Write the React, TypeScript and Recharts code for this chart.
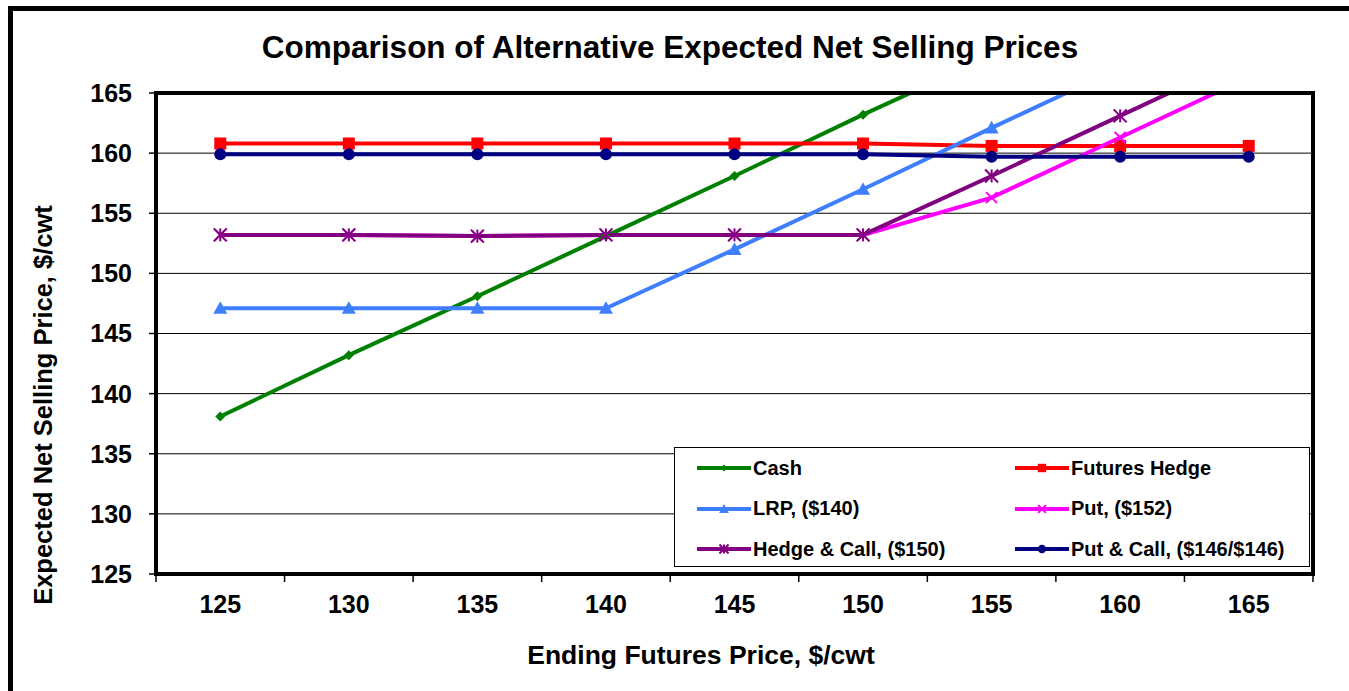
import React from 'react';
import { LineChart, Line, XAxis, YAxis, CartesianGrid } from 'recharts';

const categories = [125, 130, 135, 140, 145, 150, 155, 160, 165];
const cash = [138.1, 143.2, 148.1, 153.1, 158.1, 163.2, 168.1, 173.1, 178.1];
const futuresHedge = [160.8, 160.8, 160.8, 160.8, 160.8, 160.8, 160.6, 160.6, 160.6];
const lrp = [147.1, 147.1, 147.1, 147.1, 152.0, 157.0, 162.1, 167.1, 172.1];
const putOpt = [153.2, 153.2, 153.1, 153.2, 153.2, 153.2, 156.3, 161.3, 166.3];
const hedgeCall = [153.2, 153.2, 153.1, 153.2, 153.2, 153.2, 158.1, 163.1, 168.1];
const putCall = [159.9, 159.9, 159.9, 159.9, 159.9, 159.9, 159.7, 159.7, 159.7];
const yTicks = [125, 130, 135, 140, 145, 150, 155, 160, 165];

const seriesKeys = ['cash', 'futures', 'lrp', 'put', 'hedgeCall', 'putCall'];
const seriesNames = ['Cash', 'Futures Hedge', 'LRP, ($140)', 'Put, ($152)', 'Hedge & Call, ($150)', 'Put & Call, ($146/$146)'];
const seriesColors = ['#008000', '#FF0000', '#3F7FFF', '#FF00FF', '#800080', '#000080'];
const seriesShapes = ['diamond', 'square', 'triangle', 'x', 'star', 'circle'];
const seriesValues = [cash, futuresHedge, lrp, putOpt, hedgeCall, putCall];

const data = categories.map((c, i) => {
  const row: Record<string, number> = { x: c };
  seriesKeys.forEach((k, j) => { row[k] = seriesValues[j][i]; });
  return row;
});

const edgeTicks = [...categories.map((c) => c - 2.5), categories[categories.length - 1] + 2.5];
const allXTicks = [...edgeTicks, ...categories].sort((a, b) => a - b);

const FONT = '"Liberation Sans", Arial, sans-serif';

function Marker({ shape, cx, cy, color, s = 1 }: any) {
  if (cx == null || cy == null) return <g />;
  switch (shape) {
    case 'diamond': {
      const r = 5 * s;
      return <polygon points={`${cx},${cy - r} ${cx + r},${cy} ${cx},${cy + r} ${cx - r},${cy}`} fill={color} />;
    }
    case 'square': {
      const r = 6 * s;
      return <rect x={cx - r} y={cy - r} width={2 * r} height={2 * r} fill={color} />;
    }
    case 'triangle': {
      const r = 7 * s;
      return <polygon points={`${cx},${cy - r} ${cx + r},${cy + r * 0.8} ${cx - r},${cy + r * 0.8}`} fill={color} />;
    }
    case 'x': {
      const r = 5.5 * s;
      return (
        <g stroke={color} strokeWidth={2}>
          <line x1={cx - r} y1={cy - r} x2={cx + r} y2={cy + r} />
          <line x1={cx - r} y1={cy + r} x2={cx + r} y2={cy - r} />
        </g>
      );
    }
    case 'star': {
      const r = 6.5 * s;
      return (
        <g stroke={color} strokeWidth={2}>
          <line x1={cx - r} y1={cy - r} x2={cx + r} y2={cy + r} />
          <line x1={cx - r} y1={cy + r} x2={cx + r} y2={cy - r} />
          <line x1={cx} y1={cy - r} x2={cx} y2={cy + r} />
        </g>
      );
    }
    case 'circle':
    default:
      return <circle cx={cx} cy={cy} r={6 * s} fill={color} />;
  }
}

function XTick(props: any) {
  const { x, y, payload } = props;
  const v = payload?.value;
  if (edgeTicks.includes(v)) {
    return <line x1={x} x2={x} y1={y} y2={y + 8} stroke="#000" strokeWidth={1.5} />;
  }
  return (
    <text x={x} y={y + 21} dy="0.71em" textAnchor="middle" fill="#000" fontFamily={FONT} fontWeight="bold" fontSize={25}>
      {v}
    </text>
  );
}

function LegendBox() {
  return (
    <div
      style={{
        position: 'absolute', left: 674, top: 447, width: 636, height: 120,
        border: '1.5px solid #000', background: '#fff', boxSizing: 'border-box',
        fontFamily: FONT, fontWeight: 'bold', fontSize: 20,
      }}
    >
      {seriesNames.map((name, i) => {
        const col = i % 2;
        const row = Math.floor(i / 2);
        return (
          <div
            key={name}
            style={{
              position: 'absolute', left: col === 0 ? 22 : 340, top: 8 + row * 40.5,
              height: 24, display: 'flex', alignItems: 'center', whiteSpace: 'nowrap',
            }}
          >
            <svg width={56} height={16} style={{ display: 'block' }}>
              <line x1={0} y1={8} x2={54} y2={8} stroke={seriesColors[i]} strokeWidth={4} />
              <Marker shape={seriesShapes[i]} cx={27} cy={8} color={seriesColors[i]} s={0.7} />
            </svg>
            <span>{name}</span>
          </div>
        );
      })}
    </div>
  );
}

export default function App() {
  return (
    <div style={{ position: 'fixed', left: 0, top: 0, width: 1349, height: 691, overflow: 'hidden', background: '#fff' }}>
      <div style={{ position: 'absolute', left: 8, top: 6, width: 1400, height: 700, border: '5px solid #000', boxSizing: 'border-box' }} />
      <div style={{ position: 'absolute', left: 0, top: 0 }}>
        <LineChart width={1349} height={691} data={data} margin={{ top: 93, right: 36, bottom: 77, left: 76 }}>
          <CartesianGrid horizontal vertical={false} stroke="#000" strokeWidth={1} />
          <XAxis
            type="number"
            dataKey="x"
            domain={[edgeTicks[0], edgeTicks[edgeTicks.length - 1]]}
            ticks={allXTicks}
            interval={0}
            allowDataOverflow
            tickLine={false}
            tickSize={0}
            tickMargin={0}
            axisLine={{ stroke: '#000', strokeWidth: 4 }}
            tick={<XTick />}
            height={40}
          />
          <YAxis
            domain={[125, 165]}
            ticks={yTicks}
            allowDataOverflow
            width={80}
            tickSize={7}
            tickMargin={17}
            tickLine={{ stroke: '#000', strokeWidth: 1.5 }}
            axisLine={{ stroke: '#000', strokeWidth: 4 }}
            tick={{ fill: '#000', fontFamily: FONT, fontWeight: 'bold', fontSize: 25 }}
          />
          {seriesKeys.map((k, i) => (
            <Line
              key={k}
              dataKey={k}
              name={seriesNames[i]}
              type="linear"
              stroke={seriesColors[i]}
              strokeWidth={4}
              isAnimationActive={false}
              dot={(p: any) => (
                <Marker key={`${k}-${p.index}`} shape={seriesShapes[i]} cx={p.cx} cy={p.cy} color={seriesColors[i]} />
              )}
              activeDot={false}
            />
          ))}
        </LineChart>
      </div>
      <div style={{ position: 'absolute', left: 154, top: 91, width: 1161, height: 485, border: '4px solid #000', boxSizing: 'border-box', pointerEvents: 'none' }} />
      <LegendBox />
      <div style={{ position: 'absolute', left: 0, width: 1340, top: 28, textAlign: 'center', fontFamily: FONT, fontWeight: 'bold', fontSize: 31.5, lineHeight: '38px' }}>
        Comparison of Alternative Expected Net Selling Prices
      </div>
      <div style={{ position: 'absolute', left: 156, width: 1090, top: 640, textAlign: 'center', fontFamily: FONT, fontWeight: 'bold', fontSize: 26.5, lineHeight: '30px' }}>
        Ending Futures Price, $/cwt
      </div>
      <div style={{ position: 'absolute', left: 43, top: 405, width: 0, height: 0 }}>
        <div style={{ position: 'absolute', left: -300, top: -15, width: 600, textAlign: 'center', transform: 'rotate(-90deg)', fontFamily: FONT, fontWeight: 'bold', fontSize: 25.5, lineHeight: '30px', whiteSpace: 'nowrap' }}>
          Expected Net Selling Price, $/cwt
        </div>
      </div>
    </div>
  );
}
